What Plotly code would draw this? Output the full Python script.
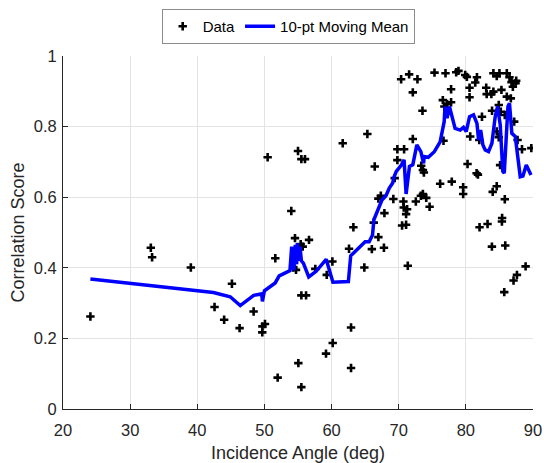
import plotly.graph_objects as go

# Incidence angle (deg) and correlation score for each sample
angle = [
    24.08, 33.08, 33.27, 39.04, 45.16, 42.57, 44.0, 46.3, 48.39, 49.7,
    50.08, 49.68, 51.62, 51.97, 70.36, 71.55, 72.79, 72.1, 73.54, 65.33,
    61.66, 72.1, 50.48, 55.0, 55.5, 56.04, 69.8, 70.8, 69.8, 66.43,
    69.4, 73.35, 73.6, 73.75, 73.3, 73.6, 74.1, 72.55, 74.6, 69.2,
    66.97, 67.33, 70.7, 70.75, 71.25, 71.1, 67.87, 54.0, 66.28, 63.25,
    70.5, 71.1, 66.97, 54.55, 56.64, 55.4, 55.7, 62.6, 66.0, 67.8,
    54.7, 54.3, 55.5, 56.2, 57.58, 59.28, 60.12, 64.88, 62.9, 62.9,
    71.35, 60.17, 59.17, 55.05, 55.5, 75.33, 76.97, 78.56, 78.9, 79.9,
    80.15, 77.8, 81.65, 81.4, 80.55, 83.03, 83.1, 83.8, 84.1, 84.1,
    84.6, 85.0, 86.1, 86.5, 86.8, 87.4, 87.0, 87.5, 85.3, 86.1,
    86.7, 80.55, 76.57, 77.2, 77.8, 76.8, 84.9, 85.2, 83.9, 85.8,
    87.2, 82.4, 76.67, 80.65, 82.0, 84.6, 84.9, 87.7, 88.36, 89.75,
    80.25, 81.6, 81.8, 85.1, 76.17, 77.9, 79.6, 79.6, 84.6, 84.0,
    85.8, 85.4, 82.04, 83.23, 85.37, 83.88, 85.87, 88.9, 87.61, 87.1,
    85.72,
]
score = [
    0.262, 0.457, 0.430, 0.401, 0.355, 0.289, 0.253, 0.229, 0.276, 0.234,
    0.241, 0.217, 0.427, 0.089, 0.934, 0.948, 0.934, 0.897, 0.845, 0.779,
    0.753, 0.765, 0.713, 0.731, 0.708, 0.708, 0.736, 0.736, 0.705, 0.687,
    0.654, 0.689, 0.677, 0.670, 0.604, 0.609, 0.598, 0.588, 0.573, 0.595,
    0.596, 0.604, 0.588, 0.571, 0.566, 0.552, 0.555, 0.561, 0.528, 0.515,
    0.520, 0.522, 0.487, 0.484, 0.479, 0.467, 0.460, 0.454, 0.453, 0.457,
    0.394, 0.401, 0.322, 0.322, 0.397, 0.380, 0.418, 0.401, 0.231, 0.116,
    0.406, 0.187, 0.157, 0.130, 0.062, 0.953, 0.951, 0.954, 0.958, 0.946,
    0.941, 0.906, 0.940, 0.925, 0.910, 0.910, 0.892, 0.892, 0.899, 0.951,
    0.943, 0.951, 0.951, 0.940, 0.926, 0.923, 0.913, 0.930, 0.904, 0.885,
    0.880, 0.883, 0.875, 0.864, 0.869, 0.857, 0.861, 0.842, 0.845, 0.833,
    0.814, 0.828, 0.760, 0.772, 0.762, 0.786, 0.770, 0.762, 0.736, 0.739,
    0.694, 0.668, 0.664, 0.691, 0.638, 0.644, 0.628, 0.609, 0.631, 0.615,
    0.594, 0.541, 0.515, 0.524, 0.531, 0.460, 0.463, 0.404, 0.380, 0.364,
    0.331,
]

# 10-point moving mean of the score, ordered by angle
mean_angle = [
    24.08, 42.4, 44.9, 46.4, 48.4, 49.6, 49.7, 50.0, 51.6, 52.2,
    53.8, 54.06, 54.2, 54.4, 54.6, 54.8, 54.9, 55.1, 55.3, 55.5,
    55.8, 56.6, 57.7, 59.2, 60.2, 62.5, 62.85, 65.0, 65.6, 66.1,
    66.3, 66.8, 67.5, 68.1, 68.6, 69.1, 69.3, 69.64, 70.4, 70.8,
    71.1, 71.6, 72.1, 72.7, 73.3, 73.7, 73.8, 74.4, 75.3, 76.17,
    76.77, 76.9, 77.2, 77.55, 77.9, 78.4, 79.15, 79.65, 80.05, 80.55,
    81.14, 81.65, 81.9, 82.2, 82.54, 82.88, 83.38, 83.88, 84.37, 84.72,
    85.12, 85.27, 85.5, 85.72, 86.0, 86.27, 86.5, 86.85, 87.36, 87.7,
    88.1, 88.5, 89.0, 89.7,
]
mean_score = [
    0.368, 0.330, 0.318, 0.293, 0.322, 0.326, 0.305, 0.335, 0.357, 0.377,
    0.392, 0.460, 0.400, 0.394, 0.465, 0.410, 0.470, 0.420, 0.460, 0.420,
    0.413, 0.374, 0.390, 0.424, 0.359, 0.361, 0.434, 0.474, 0.474, 0.493,
    0.536, 0.559, 0.592, 0.604, 0.626, 0.640, 0.657, 0.673, 0.691, 0.706,
    0.609, 0.687, 0.692, 0.748, 0.729, 0.696, 0.715, 0.713, 0.729, 0.757,
    0.814, 0.857, 0.824, 0.857, 0.828, 0.795, 0.790, 0.798, 0.786, 0.828,
    0.833, 0.809, 0.762, 0.790, 0.748, 0.734, 0.729, 0.753, 0.828, 0.857,
    0.805, 0.734, 0.673, 0.668, 0.781, 0.857, 0.866, 0.781, 0.772, 0.715,
    0.658, 0.660, 0.691, 0.663,
]

x_ticks = [20, 30, 40, 50, 60, 70, 80, 90]
y_ticks = [0, 0.2, 0.4, 0.6, 0.8, 1]

FONT = "Liberation Sans, Arial, Helvetica, sans-serif"
INK = "#262626"
GRID = "#e3e3e3"

fig = go.Figure()
fig.add_trace(go.Scatter(
    x=angle, y=score, mode="markers", name="Data",
    marker=dict(symbol="cross-thin", size=6, color="black",
                line=dict(color="black", width=2.6)),
))
fig.add_trace(go.Scatter(
    x=mean_angle, y=mean_score, mode="lines", name="10-pt Moving Mean",
    line=dict(color="#0000ff", width=3.5),
))

axis_common = dict(
    showgrid=True, gridcolor=GRID, gridwidth=1,
    showline=True, linecolor=INK, linewidth=1,
    ticks="inside", ticklen=5, tickcolor=INK, tickwidth=1,
    tickfont=dict(family=FONT, size=16.5, color=INK),
    zeroline=False, mirror=False, automargin=False,
)

fig.update_layout(
    width=544, height=463,
    margin=dict(l=63, r=11, t=56, b=54, autoexpand=False),
    paper_bgcolor="white", plot_bgcolor="white",
    font=dict(family=FONT, color=INK),
    xaxis=dict(range=[20, 90], tickvals=x_ticks, ticklabelstandoff=6,
               title=dict(text="Incidence Angle (deg)", font=dict(size=18, color=INK), standoff=12),
               **axis_common),
    yaxis=dict(range=[0, 1], tickvals=y_ticks, ticklabelstandoff=2,
               title=dict(text="Correlation Score", font=dict(size=18, color=INK), standoff=4),
               **axis_common),
    legend=dict(
        orientation="h", x=0.21, y=1.133, xanchor="left", yanchor="top",
        bgcolor="white", bordercolor="#8c8c8c", borderwidth=1,
        font=dict(family=FONT, size=15, color="black"),
        itemwidth=30,
    ),
    showlegend=True,
)

fig.write_html("out.html")
